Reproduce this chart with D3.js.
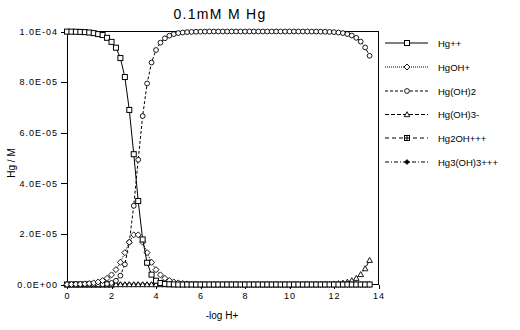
<!DOCTYPE html>
<html><head><meta charset="utf-8">
<script src="https://cdn.jsdelivr.net/npm/d3@7"></script>
<style>
html,body{margin:0;padding:0;background:#fff;}
svg{display:block;}
text{font-family:"Liberation Sans",Arial,sans-serif;fill:#000;}
</style></head>
<body>
<svg id="chart" width="520" height="330"></svg>
<script>
const title = "0.1mM M Hg";
const xLabel = "-log H+";
const yLabel = "Hg / M";
const seriesNames = ["Hg++","HgOH+","Hg(OH)2","Hg(OH)3-","Hg2OH+++","Hg3(OH)3+++"];
const xTicks = [0,2,4,6,8,10,12,14];
const yTicks = [0,2e-5,4e-5,6e-5,8e-5,1e-4];
const yTickLabels = ["0.0E+00","2.0E-05","4.0E-05","6.0E-05","8.0E-05","1.0E-04"];

const pH = [0,0.2,0.4,0.6,0.8,1.0,1.2,1.4,1.6,1.8,2.0,2.2,2.4,2.6,2.8,3.0,3.2,3.4,3.6,3.8,
  4.0,4.2,4.4,4.6,4.8,5.0,5.2,5.4,5.6,5.8,6.0,6.2,6.4,6.6,6.8,7.0,7.2,7.4,7.6,7.8,
  8.0,8.2,8.4,8.6,8.8,9.0,9.2,9.4,9.6,9.8,10.0,10.2,10.4,10.6,10.8,11.0,11.2,11.4,11.6,11.8,
  12.0,12.2,12.4,12.6,12.8,13.0,13.2,13.4,13.6];

const hg = [9.996e-5,9.994e-5,9.990e-5,9.984e-5,9.975e-5,9.960e-5,9.936e-5,9.897e-5,9.860e-5,9.750e-5,
  9.590e-5,9.360e-5,8.950e-5,8.200e-5,6.900e-5,5.150e-5,3.300e-5,1.780e-5,8.6e-6,3.9e-6,
  1.5e-6,6e-7,2.4e-7,1e-7,4e-8,0,0,0,0,0,0,0,0,0,0,0,0,0,0,0,
  0,0,0,0,0,0,0,0,0,0,0,0,0,0,0,0,0,0,0,0,
  0,0,0,0,0,0,0,0,0];
const hgoh = [4e-8,6e-8,1e-7,1.6e-7,2.5e-7,4e-7,6.3e-7,9.9e-7,1.56e-6,2.44e-6,
  3.8e-6,5.85e-6,8.77e-6,1.259e-5,1.672e-5,1.962e-5,1.962e-5,1.672e-5,1.259e-5,8.77e-6,
  5.85e-6,3.8e-6,2.44e-6,1.56e-6,9.9e-7,6.3e-7,4e-7,2.5e-7,1.6e-7,1e-7,6e-8,4e-8,0,0,0,0,0,0,0,0,
  0,0,0,0,0,0,0,0,0,0,0,0,0,0,0,0,0,0,0,0,
  0,0,0,0,0,0,0,0,0];
const hgoh2 = [0,0,0,1e-9,2.5e-9,6e-9,1.6e-8,4e-8,1e-7,2.4e-7,
  6e-7,1.47e-6,3.49e-6,7.95e-6,1.672e-5,3.11e-5,4.93e-5,6.656e-5,7.946e-5,8.773e-5,
  9.269e-5,9.559e-5,9.731e-5,9.834e-5,9.897e-5,9.937e-5,9.96e-5,9.975e-5,9.984e-5,9.99e-5,
  9.994e-5,9.996e-5,1e-4,1e-4,1e-4,1e-4,1e-4,1e-4,1e-4,1e-4,
  1e-4,1e-4,1e-4,1e-4,1e-4,1e-4,1e-4,1e-4,1e-4,1e-4,1e-4,1e-4,1e-4,1e-4,1e-4,
  9.997e-5,9.996e-5,9.994e-5,9.99e-5,9.984e-5,9.975e-5,9.96e-5,9.937e-5,9.90e-5,9.84e-5,
  9.75e-5,9.60e-5,9.37e-5,9.04e-5];
const hgoh3 = [0,0,0,0,0,0,0,0,0,0,0,0,0,0,0,0,0,0,0,0,
  0,0,0,0,0,0,0,0,0,0,0,0,0,0,0,0,0,0,0,0,
  0,0,0,0,0,0,0,0,0,0,0,0,0,0,0,
  3e-8,4e-8,6e-8,1e-7,1.6e-7,2.5e-7,4e-7,6.3e-7,1.0e-6,1.6e-6,
  2.5e-6,4.0e-6,6.3e-6,9.6e-6];
const hg2oh = [0,0,0,0,0,0,0,0,0,0,0,null,null,null,null,null,null,null,null,null,
  null,null,null,null,null,null,null,null,null,null,null,null,null,null,null,null,null,null,null,null,
  null,null,null,null,null,null,null,null,null,null,null,null,null,null,null,null,null,null,null,null,
  null,null,null,null,null,null,null,null,null];
const hg3oh3 = [null,null,null,null,null,null,null,null,null,null,null,0,0,0,0,0,0,0,0,0,
  0,null,null,null,null,null,null,null,null,null,null,null,null,null,null,null,null,null,null,null,
  null,null,null,null,null,null,null,null,null,null,null,null,null,null,null,null,null,null,null,null,
  null,null,null,null,null,null,null,null,null];

const seriesValues = [hg, hgoh, hgoh2, hgoh3, hg2oh, hg3oh3];
const dashes = [null, "1,1", "3,2", "4,2", "4,3", "4,2,1,2"];
const markers = ["square","diamond","circle","triangle","squarecross","fdiamond"];

const svg = d3.select("#chart");
const L = 67, R = 378.5, T = 31.5, B = 284.5;
const x = d3.scaleLinear().domain([0,14]).range([L,R]);
const y = d3.scaleLinear().domain([0,1e-4]).range([B,T]);

function drawMarker(g, type, cx, cy){
  if(type==="square"){
    g.append("rect").attr("x",cx-2.5).attr("y",cy-2.5).attr("width",5).attr("height",5)
     .attr("fill","#fff").attr("stroke","#000").attr("stroke-width",1);
  } else if(type==="squarecross"){
    g.append("rect").attr("x",cx-2.5).attr("y",cy-2.5).attr("width",5).attr("height",5)
     .attr("fill","#fff").attr("stroke","#000").attr("stroke-width",1);
    g.append("path").attr("d",`M${cx-2.5},${cy}H${cx+2.5}M${cx},${cy-2.5}V${cy+2.5}`)
     .attr("stroke","#000").attr("stroke-width",1);
  } else if(type==="diamond"){
    g.append("path").attr("d",`M${cx},${cy-3}L${cx+3},${cy}L${cx},${cy+3}L${cx-3},${cy}Z`)
     .attr("fill","#fff").attr("stroke","#000").attr("stroke-width",0.9);
  } else if(type==="fdiamond"){
    g.append("path").attr("d",`M${cx},${cy-2.5}L${cx+2.5},${cy}L${cx},${cy+2.5}L${cx-2.5},${cy}Z`)
     .attr("fill","#000").attr("stroke","#000").attr("stroke-width",0.6);
  } else if(type==="circle"){
    g.append("circle").attr("cx",cx).attr("cy",cy).attr("r",2.4)
     .attr("fill","#fff").attr("stroke","#000").attr("stroke-width",0.9);
  } else if(type==="triangle"){
    g.append("path").attr("d",`M${cx},${cy-2.8}L${cx+2.8},${cy+2.2}L${cx-2.8},${cy+2.2}Z`)
     .attr("fill","#fff").attr("stroke","#000").attr("stroke-width",0.9);
  }
}

// title and labels
svg.append("text").attr("x",220).attr("y",19).attr("text-anchor","middle")
  .style("font-size","14px").style("letter-spacing","1.3px").text(title);
svg.append("text").attr("x",222).attr("y",319).attr("text-anchor","middle")
  .style("font-size","10px").text(xLabel);
svg.append("text").attr("transform","translate(15,163) rotate(-90)").attr("text-anchor","middle")
  .style("font-size","10px").text(yLabel);

// axes
const xAxis = d3.axisBottom(x).tickValues(xTicks).tickSize(4).tickFormat(d3.format("d"));
const gx = svg.append("g").attr("transform",`translate(0,${B})`).call(xAxis);
const yAxis = d3.axisLeft(y).tickValues(yTicks).tickSize(6).tickFormat((d,i)=>yTickLabels[i]);
const gy = svg.append("g").attr("transform",`translate(${L},0)`).call(yAxis);
[gx,gy].forEach(g=>{
  g.select(".domain").remove();
  g.selectAll("line").attr("stroke","#000").attr("shape-rendering","crispEdges");
  g.selectAll("text").style("font-size","9px").style("letter-spacing","1px")
    .style("font-family","'Liberation Sans',Arial,sans-serif").attr("fill","#000");
});
gx.selectAll("text").attr("dy","0.95em").attr("y",6);
gy.selectAll("text").attr("x",-9);

// frame
svg.append("rect").attr("x",L).attr("y",T).attr("width",R-L).attr("height",B-T)
  .attr("fill","none").attr("stroke","#000").attr("stroke-width",1).attr("shape-rendering","crispEdges");

// series (draw last series first so Hg++ ends on top)
const plot = svg.append("g");
for(let s = seriesValues.length-1; s>=0; s--){
  const pts = pH.map((p,i)=>({x:p, v:seriesValues[s][i]}));
  const line = d3.line().defined(d=>d.v!==null).x(d=>x(d.x)).y(d=>y(d.v));
  plot.append("path").datum(pts).attr("d",line).attr("fill","none").attr("stroke","#000")
    .attr("stroke-width",1).attr("stroke-dasharray",dashes[s]);
  const mg = plot.append("g");
  pts.filter(d=>d.v!==null).forEach(d=>drawMarker(mg, markers[s], x(d.x), y(d.v)));
}

// legend
const legY = [43,67,91,114.5,138,162];
const lg = svg.append("g");
seriesNames.forEach((n,i)=>{
  lg.append("line").attr("x1",385).attr("x2",428).attr("y1",legY[i]).attr("y2",legY[i])
    .attr("stroke","#000").attr("stroke-width",1).attr("stroke-dasharray",dashes[i]);
  drawMarker(lg, markers[i], 407, legY[i]);
  lg.append("text").attr("x",438).attr("y",legY[i]+3.5).style("font-size","9.5px").text(n);
});
</script>
</body></html>
